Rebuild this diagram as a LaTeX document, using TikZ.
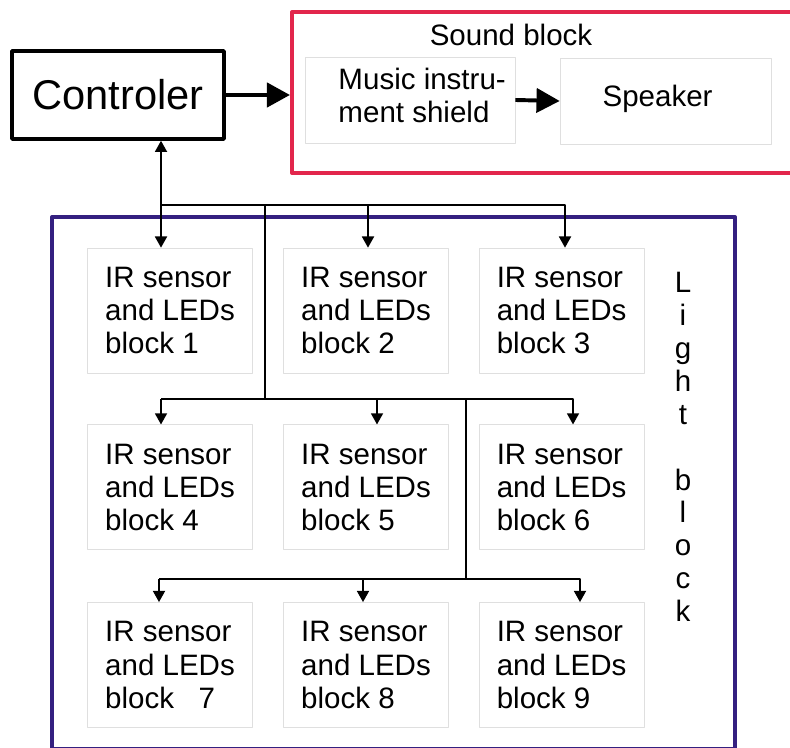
\documentclass[tikz,border=0pt]{standalone}
\usepackage{fontspec}
\setmainfont{Liberation Sans}
\usetikzlibrary{arrows.meta,calc}
\usetikzlibrary{positioning}
\definecolor{sndred}{RGB}{226,38,76}
\definecolor{lgtblue}{RGB}{52,32,128}
\tikzset{irbox/.style={draw=gray!25,line width=0.6pt,minimum width=4.125cm,minimum height=3.125cm,align=left,inner sep=0pt},
  sndbox/.style={draw=gray!25,line width=0.6pt,minimum width=5.25cm,minimum height=2.15cm,align=left,inner sep=0pt},
  bigarr/.style={-{Triangle[length=5.8mm,width=6mm]},line width=3.4pt}}

\begin{document}
\begin{tikzpicture}[>={Triangle[length=2.8mm,width=3mm]},line width=1.3pt,line join=round,font=\fontsize{21}{23.5}\selectfont]
\useasboundingbox (0,0) rectangle (19.75,18.675);
% --- frames
\node[draw=sndred,line width=2.8pt,minimum width=12.9cm,minimum height=4.025cm] (sound) at (13.75,16.3625) {};
\node[draw=lgtblue,line width=2.8pt,minimum width=17.075cm,minimum height=13.3cm] (light) at (9.8375,6.6) {};
\node at (12.775,17.8) (sndlbl) {Sound block};
\node[align=center,font=\fontsize{21}{23.4}\selectfont] (lgtlbl) at (17.075,7.5) {L\\i\\g\\h\\t\\~\\b\\l\\o\\c\\k};
% --- controller and sound block
\node[draw,line width=2.5pt,minimum width=5.3cm,minimum height=2.2cm,inner sep=0pt,font=\fontsize{29.6}{34}\selectfont] (ctrl) at (2.95,16.3) {Controler};
\node[sndbox] (shield) at (10.25,16.175) {};
\node[anchor=west,align=left,inner sep=0pt] (shieldtxt) at ([xshift=0.825cm,yshift=0.12cm]shield.west) {Music instru-\\ment shield};
\node[sndbox,minimum width=5.275cm] (spk) at (16.64,16.15) {};
\node[inner sep=0pt] (spktxt) at ([xshift=-0.2cm,yshift=0.05cm]spk.center) {Speaker};
\draw[bigarr] (ctrl.east) -- (ctrl.east -| sound.west);
\draw[bigarr,line width=2.8pt] (shield.east) -- (spk.west);
% --- IR sensor blocks
\node[irbox] (b1) at (4.25,10.91) {IR sensor\\and LEDs\\block 1};
\node[irbox] (b2) at (9.15,10.91) {IR sensor\\and LEDs\\block 2};
\node[irbox] (b3) at (14.04,10.91) {IR sensor\\and LEDs\\block 3};
\node[irbox] (b4) at (4.25,6.49) {IR sensor\\and LEDs\\block 4};
\node[irbox] (b5) at (9.15,6.49) {IR sensor\\and LEDs\\block 5};
\node[irbox] (b6) at (14.04,6.49) {IR sensor\\and LEDs\\block 6};
\node[irbox] (b7) at (4.25,2.05) {IR sensor\\and LEDs\\block\ \ \ 7};
\node[irbox] (b8) at (9.15,2.05) {IR sensor\\and LEDs\\block 8};
\node[irbox] (b9) at (14.04,2.05) {IR sensor\\and LEDs\\block 9};
% --- bus lines
\coordinate (ja) at (4.025,13.55); \coordinate (jb) at (9.2,13.55); \coordinate (jc) at (14.125,13.55);
\coordinate (ka) at (6.625,13.55); \coordinate (kb) at (6.625,8.7);
\coordinate (ma) at (4.025,8.7); \coordinate (mb) at (9.425,8.7); \coordinate (mc) at (14.325,8.7);
\coordinate (na) at (11.65,8.7); \coordinate (nb) at (11.65,4.2);
\coordinate (pa) at (3.975,4.2); \coordinate (pb) at (9.075,4.2); \coordinate (pc) at (14.5,4.2);
\draw[<->] (ctrl.south -| ja) -- (ja |- b1.north);
\draw[->] (ja) -- (jc) -- (jc |- b3.north); \draw[->] (jb) -- (jb |- b2.north);
\draw (ka) -- (kb);
\draw[->] (ma) -- (ma |- b4.north); \draw[->] (ma) -- (mc) -- (mc |- b6.north); \draw[->] (mb) -- (mb |- b5.north);
\draw (na) -- (nb);
\draw[->] (pa) -- (pa |- b7.north); \draw[->] (pa) -- (pc) -- (pc |- b9.north); \draw[->] (pb) -- (pb |- b8.north);
\end{tikzpicture}
\end{document}
